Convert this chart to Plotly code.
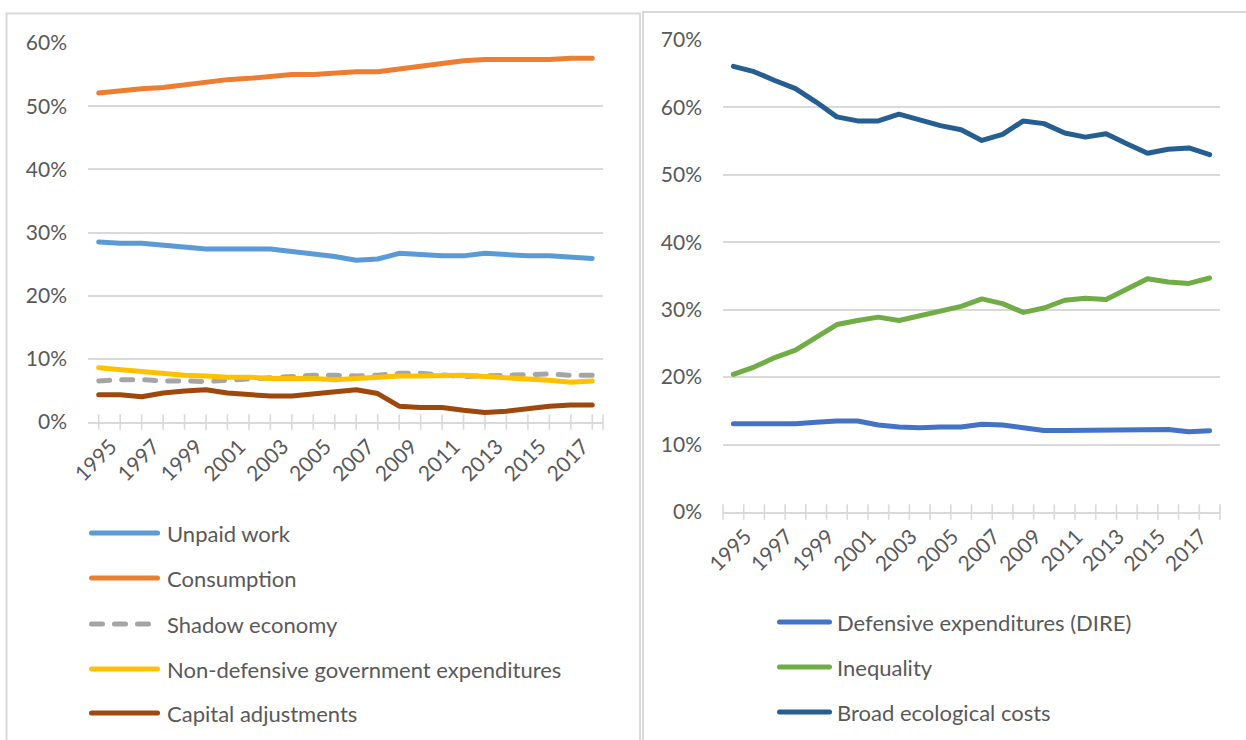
import plotly.graph_objects as go

W, H = 1246, 740

years = list(range(1995, 2019))
label_years = [y for y in years if (y - 1995) % 2 == 0]

# Left panel series (% of total)
unpaid_work = [28.5, 28.3, 28.3, 28.05, 27.7, 27.4, 27.4, 27.4, 27.4, 27.0, 26.6, 26.2,
               25.6, 25.8, 26.7, 26.5, 26.3, 26.3, 26.7, 26.5, 26.3, 26.3, 26.1, 25.9]
consumption = [52.1, 52.5, 52.75, 52.95, 53.4, 53.9, 54.2, 54.4, 54.7, 55.0, 55.0, 55.2,
               55.45, 55.45, 55.9, 56.4, 56.7, 57.2, 57.4, 57.4, 57.4, 57.4, 57.6, 57.6]
shadow_economy = [6.5, 6.7, 6.7, 6.5, 6.5, 6.4, 6.6, 6.8, 7.1, 7.3, 7.4, 7.4,
                  7.3, 7.4, 7.7, 7.7, 7.4, 7.2, 7.3, 7.4, 7.6, 7.6, 7.4, 7.4]
non_defensive_gov = [8.6, 8.3, 8.05, 7.7, 7.4, 7.3, 7.1, 7.1, 6.9, 6.9, 6.9, 6.7,
                     6.9, 7.2, 7.3, 7.3, 7.4, 7.4, 7.2, 7.05, 6.8, 6.6, 6.3, 6.5]
capital_adjustments = [4.3, 4.3, 4.0, 4.6, 4.9, 5.1, 4.6, 4.3, 4.1, 4.1, 4.4, 4.7,
                       5.1, 4.5, 2.5, 2.3, 2.3, 1.85, 1.5, 1.7, 2.1, 2.5, 2.7, 2.7]

# Right panel series (% of total)
defensive_dire = [13.1, 13.1, 13.1, 13.1, 13.3, 13.5, 13.5, 12.9, 12.6, 12.5, 12.6, 12.6,
                  13.0, 12.9, 12.5, 12.1, 12.1, 12.1, 12.1, 12.2, 12.25, 12.25, 11.9, 12.05]
inequality = [20.4, 21.5, 22.9, 24.0, 25.9, 27.8, 28.4, 28.9, 28.4, 29.1, 29.85, 30.5,
              31.6, 30.9, 29.6, 30.25, 31.4, 31.7, 31.5, 33.0, 34.6, 34.1, 33.9, 34.7]
broad_ecological = [66.1, 65.3, 64.0, 62.8, 60.8, 58.6, 58.0, 58.0, 59.0, 58.2, 57.3, 56.7,
                    55.1, 56.0, 58.0, 57.6, 56.2, 55.6, 56.1, 54.6, 53.2, 53.8, 54.0, 53.0]

left_ticks_pct = list(range(0, 61, 10))
right_ticks_pct = list(range(0, 71, 10))

left_names = ["Unpaid work", "Consumption", "Shadow economy",
              "Non-defensive government expenditures", "Capital adjustments"]
right_names = ["Defensive expenditures (DIRE)", "Inequality", "Broad ecological costs"]

left_colors = ["#5B9BD5", "#ED7D31", "#A5A5A5", "#FFC000", "#9E480E"]
right_colors = ["#4472C4", "#70AD47", "#255E91"]
left_dash = ["solid", "solid", "11px,12px", "solid", "solid"]

FONT = "Lato"
TXT = "#595959"
GRID = "#D9D9D9"
LW = 5
FS = 22


def px(x):
    return x / W


def py(y):
    return 1 - y / H


fig = go.Figure()

# category tick marks crossing the horizontal axis
left_ticks = years + [years[-1] + 0.5]
right_ticks = [y - 0.5 for y in years] + [years[-1] + 0.5]
for xa, ya, tx in (("x", "y", left_ticks), ("x2", "y2", right_ticks)):
    fig.add_trace(go.Scatter(
        x=tx, y=[0] * len(tx), xaxis=xa, yaxis=ya, mode="markers",
        marker=dict(symbol="line-ns", size=11, line=dict(width=1.6, color=GRID)),
        hoverinfo="skip", showlegend=False, cliponaxis=False))

left_series = [unpaid_work, consumption, shadow_economy, non_defensive_gov, capital_adjustments]
for name, vals, col, dash in zip(left_names, left_series, left_colors, left_dash):
    fig.add_trace(go.Scatter(
        x=years, y=vals, name=name, mode="lines", xaxis="x", yaxis="y",
        line=dict(color=col, width=LW, dash=dash), showlegend=False))

right_series = [defensive_dire, inequality, broad_ecological]
for name, vals, col in zip(right_names, right_series, right_colors):
    fig.add_trace(go.Scatter(
        x=years, y=vals, name=name, mode="lines", xaxis="x2", yaxis="y2",
        line=dict(color=col, width=LW), showlegend=False))

xcommon = dict(
    range=[1994.5, 2018.5], tickmode="array", tickvals=label_years,
    ticktext=[str(y) for y in label_years], automargin=False,
    tickangle=-45, ticks="", showgrid=False, zeroline=False,
    showline=True, linecolor=GRID, linewidth=2,
    tickfont=dict(family=FONT, size=FS - 1, color=TXT), ticklabelshift=12,
    ticklabelstandoff=2,
)
ycommon = dict(
    tickmode="array", showgrid=True, gridcolor=GRID, gridwidth=1.5, zeroline=False,
    showline=False, ticks="", tickfont=dict(family=FONT, size=FS - 1, color=TXT),
    ticklabelstandoff=20, automargin=False,
)

fig.update_layout(
    width=W, height=H, margin=dict(l=0, r=0, t=0, b=0, autoexpand=False),
    paper_bgcolor="white", plot_bgcolor="white",
    xaxis=dict(domain=[px(88), px(603)], anchor="y", **xcommon),
    yaxis=dict(domain=[py(422), py(43)], anchor="x", range=[0, 60],
               tickvals=left_ticks_pct, ticktext=[f"{v}%" for v in left_ticks_pct],
               **ycommon),
    xaxis2=dict(domain=[px(723), px(1220)], anchor="y2", **xcommon),
    yaxis2=dict(domain=[py(512), py(40)], anchor="x2", range=[0, 70],
                tickvals=right_ticks_pct, ticktext=[f"{v}%" for v in right_ticks_pct],
                **ycommon),
)

shapes = []
annotations = []

# panel frames (their lower and outer edges run past the page)
Lx0, Lx1, Ly = px(6.5), px(640), py(13.5)
Rx0, Ry = px(643), py(12)
shapes.append(dict(type="path", xref="paper", yref="paper",
                   path=f"M{Lx0},0 L{Lx0},{Ly} L{Lx1},{Ly} L{Lx1},0",
                   line=dict(color=GRID, width=2), layer="below"))
shapes.append(dict(type="path", xref="paper", yref="paper",
                   path=f"M{Rx0},0 L{Rx0},{Ry} L1,{Ry}",
                   line=dict(color=GRID, width=2), layer="below"))

# legends (line samples get rounded caps below, so they start/end 2.5px inside)
left_leg_y = [533, 578, 624, 669, 713]
for name, col, dash, ly in zip(left_names, left_colors, left_dash, left_leg_y):
    shapes.append(dict(type="line", xref="paper", yref="paper",
                       x0=px(91.5), x1=px(157.5), y0=py(ly), y1=py(ly),
                       line=dict(color=col, width=LW, dash=dash)))
    annotations.append(dict(text=name, xref="paper", yref="paper", x=px(165), y=py(ly),
                            xanchor="left", yanchor="middle", showarrow=False,
                            font=dict(family=FONT, size=FS, color=TXT)))

right_leg_y = [622, 667, 712]
for name, col, ly in zip(right_names, right_colors, right_leg_y):
    shapes.append(dict(type="line", xref="paper", yref="paper",
                       x0=px(779.5), x1=px(829.5), y0=py(ly), y1=py(ly),
                       line=dict(color=col, width=LW)))
    annotations.append(dict(text=name, xref="paper", yref="paper", x=px(835), y=py(ly),
                            xanchor="left", yanchor="middle", showarrow=False,
                            font=dict(family=FONT, size=FS, color=TXT)))

fig.update_layout(shapes=shapes, annotations=annotations)

# rounded line ends for the series and the legend samples
round_caps = """
document.querySelectorAll('.scatterlayer path.js-line').forEach(function(p){
  p.style.strokeLinecap = 'round'; p.style.strokeLinejoin = 'round';
});
document.querySelectorAll('.shapelayer path').forEach(function(p){
  if (p.getAttribute('d') && p.getAttribute('d').split('L').length === 2) {
    p.style.strokeLinecap = 'round';
  }
});
"""

fig.write_html("out.html", config={"displayModeBar": False}, post_script=round_caps)
